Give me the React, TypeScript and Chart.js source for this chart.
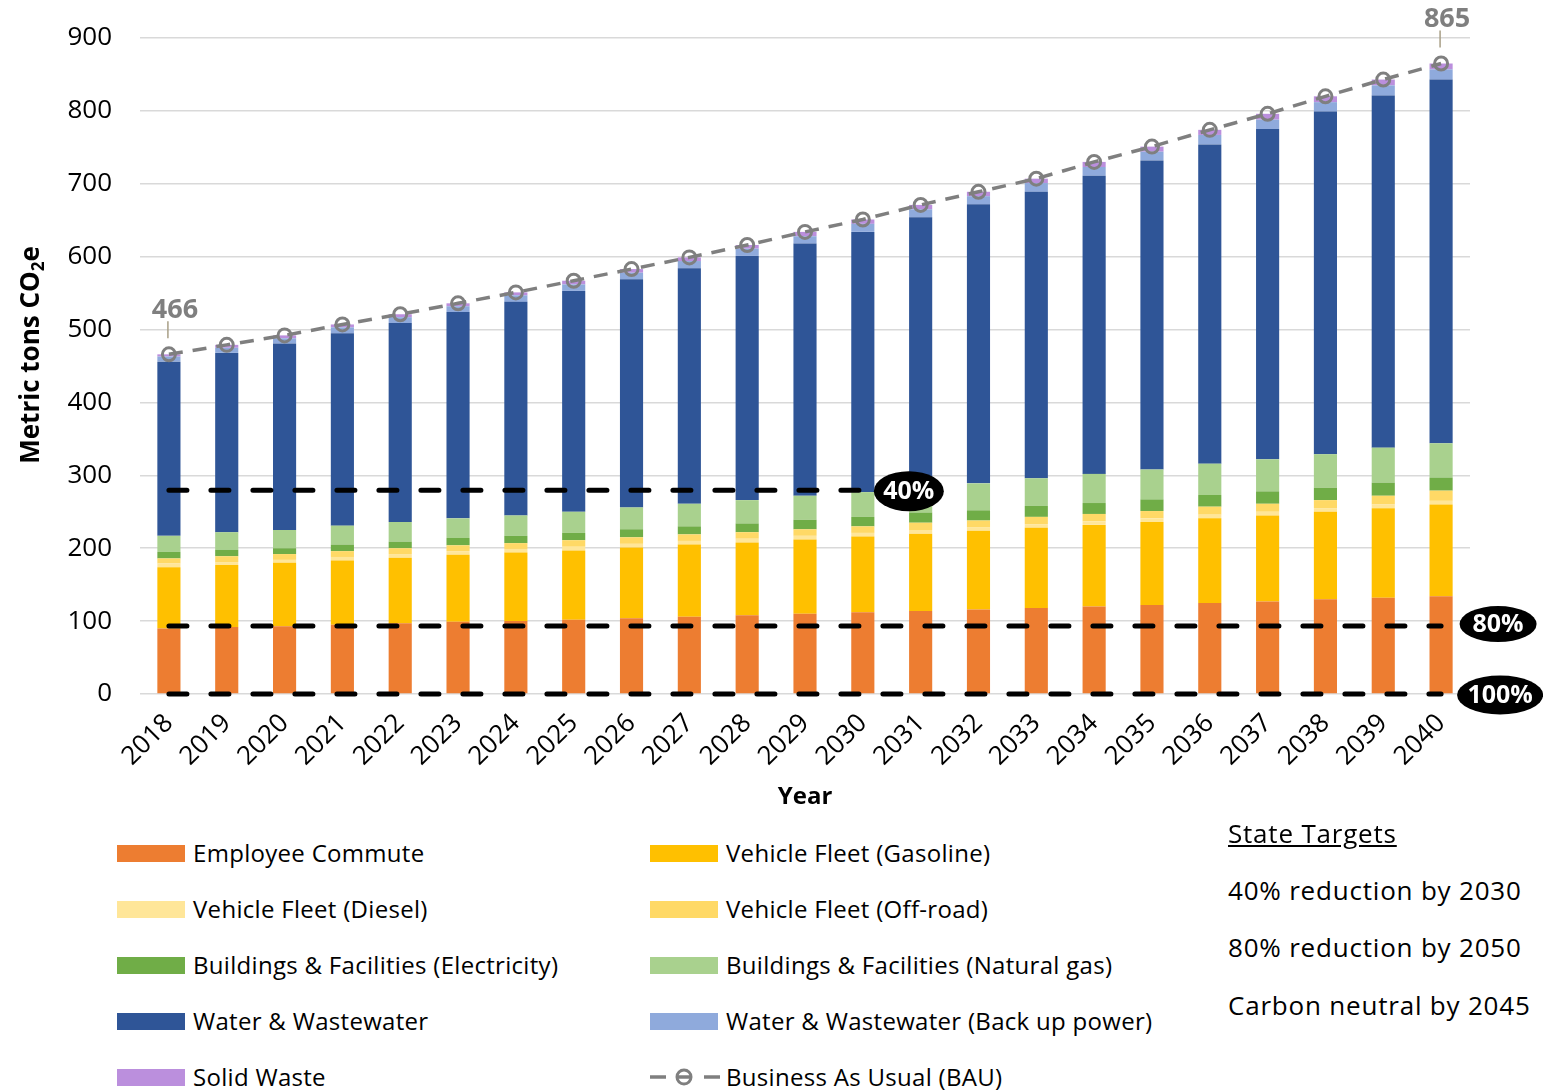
import React, { useEffect, useRef } from 'react';
import { Chart, registerables } from 'chart.js';

Chart.register(...registerables);

const FONT = "'Open Sans', 'DejaVu Sans', sans-serif";

// ---------- data ----------
const years = ['2018', '2019', '2020', '2021', '2022', '2023', '2024', '2025', '2026', '2027', '2028', '2029', '2030', '2031', '2032', '2033', '2034', '2035', '2036', '2037', '2038', '2039', '2040'];

const employeeCommute = [90, 92, 93, 95, 97, 99, 100, 102, 104, 106, 108, 110, 112, 114, 116, 118, 120, 122, 125, 127, 130, 132, 134];
const vehicleGasoline = [84, 85, 87, 88, 90, 92, 94, 95, 97, 99, 100, 102, 104, 106, 108, 110, 112, 114, 116, 118, 120, 123, 126];
const vehicleDiesel = [5, 4, 4, 5, 5, 5, 5, 5, 5, 5, 5, 5, 5, 5, 5, 5, 5, 5, 5, 5, 5, 5, 5];
const vehicleOffroad = [7, 8, 8, 8, 8, 8, 8, 9, 9, 9, 9, 9, 9, 10, 9, 10, 10, 10, 11, 11, 11, 12, 14];
const buildingsElectricity = [9, 9, 8, 9, 9, 10, 10, 10, 11, 11, 12, 13, 13, 14, 14, 15, 15, 16, 16, 17, 17, 18, 18];
const buildingsNaturalGas = [22, 24, 25, 26, 27, 27, 28, 29, 30, 31, 32, 33, 34, 35, 37, 38, 40, 41, 43, 44, 46, 48, 47];
const waterWastewater = [239, 246, 256, 264, 273, 283, 293, 303, 313, 323, 335, 346, 357, 370, 383, 393, 409, 424, 438, 453, 470, 483, 499];
const waterBackupPower = [7, 7, 7, 8, 8, 8, 9, 9, 9, 10, 10, 10, 11, 11, 11, 12, 12, 12, 13, 13, 13, 14, 14];
const solidWaste = [3, 4, 4, 4, 4, 4, 4, 5, 5, 5, 5, 6, 6, 6, 6, 6, 7, 7, 7, 8, 8, 8, 8];
const businessAsUsual = [466, 479, 492, 507, 521, 536, 551, 567, 583, 599, 616, 634, 651, 671, 689, 707, 730, 751, 774, 796, 820, 843, 865];

// State target lines (share of 2018 baseline remaining)
const target40 = [279.6, 279.6, 279.6, 279.6, 279.6, 279.6, 279.6, 279.6, 279.6, 279.6, 279.6, 279.6, 279.6, null, null, null, null, null, null, null, null, null, null];
const target80 = [93.2, 93.2, 93.2, 93.2, 93.2, 93.2, 93.2, 93.2, 93.2, 93.2, 93.2, 93.2, 93.2, 93.2, 93.2, 93.2, 93.2, 93.2, 93.2, 93.2, 93.2, 93.2, 93.2];
const target100 = [0, 0, 0, 0, 0, 0, 0, 0, 0, 0, 0, 0, 0, 0, 0, 0, 0, 0, 0, 0, 0, 0, 0];
const targetLabels = ['40%', '80%', '100%'];

const yTicks = [0, 100, 200, 300, 400, 500, 600, 700, 800, 900];

const seriesLabels = [
  'Employee Commute',
  'Vehicle Fleet (Gasoline)',
  'Vehicle Fleet (Diesel)',
  'Vehicle Fleet (Off-road)',
  'Buildings & Facilities (Electricity)',
  'Buildings & Facilities (Natural gas)',
  'Water & Wastewater',
  'Water & Wastewater (Back up power)',
  'Solid Waste',
];
const seriesValues = [employeeCommute, vehicleGasoline, vehicleDiesel, vehicleOffroad, buildingsElectricity, buildingsNaturalGas, waterWastewater, waterBackupPower, solidWaste];
const seriesColors = ['#ED7D31', '#FFC000', '#FFE699', '#FFD966', '#70AD47', '#A9D18E', '#2F5597', '#8FAADC', '#BB8FDD'];
const bauLabel = 'Business As Usual (BAU)';
const bauColor = '#7F7F7F';

const stateTargets = ['40% reduction by 2030', '80% reduction by 2050', 'Carbon neutral by 2045'];

// ---------- overlay plugin ----------
const overlayPlugin = {
  id: 'overlay',
  afterDatasetsDraw(chart: any) {
    const ctx = chart.ctx;
    ctx.save();
    chart.data.datasets.forEach((ds: any, i: number) => {
      const meta = chart.getDatasetMeta(i);
      if (ds.targetLabel) {
        let last: any = null;
        meta.data.forEach((pt: any, j: number) => {
          if (ds.data[j] !== null && ds.data[j] !== undefined) last = pt;
        });
        if (!last) return;
        const cx = last.x + ds.labelDx;
        const cy = last.y + ds.labelDy;
        ctx.beginPath();
        ctx.ellipse(cx, cy, ds.labelW / 2, ds.labelH / 2, 0, 0, Math.PI * 2);
        ctx.fillStyle = '#000';
        ctx.fill();
        ctx.fillStyle = '#fff';
        ctx.font = `bold 25px ${FONT}`;
        ctx.textAlign = 'center';
        ctx.textBaseline = 'middle';
        ctx.fillText(ds.targetLabel, cx, cy + 1);
      }
      if (ds.isBau) {
        const idxs = [0, ds.data.length - 1];
        idxs.forEach((j) => {
          const pt = meta.data[j];
          ctx.strokeStyle = '#A89F86';
          ctx.lineWidth = 1.5;
          ctx.setLineDash([]);
          ctx.beginPath();
          ctx.moveTo(pt.x - 1, pt.y - 33);
          ctx.lineTo(pt.x - 1, pt.y - 16);
          ctx.stroke();
          ctx.fillStyle = bauColor;
          ctx.font = `bold 27px ${FONT}`;
          ctx.textAlign = 'center';
          ctx.textBaseline = 'middle';
          ctx.fillText(String(ds.data[j]), pt.x + 6, pt.y - 44);
        });
      }
    });
    ctx.restore();
  },
  afterDraw(chart: any) {
    const ctx = chart.ctx;
    const area = chart.chartArea;
    ctx.save();
    const cy = (area.top + area.bottom) / 2 - 11;
    ctx.translate(39, cy);
    ctx.rotate(-Math.PI / 2);
    ctx.fillStyle = '#000';
    ctx.textBaseline = 'alphabetic';
    const big = `bold 26px ${FONT}`;
    const small = `bold 17px ${FONT}`;
    const p1 = 'Metric tons CO';
    const p2 = '2';
    const p3 = 'e';
    ctx.font = big;
    const w1 = ctx.measureText(p1).width;
    const w3 = ctx.measureText(p3).width;
    ctx.font = small;
    const w2 = ctx.measureText(p2).width;
    const total = w1 + w2 + w3;
    let x = -total / 2;
    ctx.textAlign = 'left';
    ctx.font = big;
    ctx.fillText(p1, x, 0);
    x += w1;
    ctx.font = small;
    ctx.fillText(p2, x, 5);
    x += w2;
    ctx.font = big;
    ctx.fillText(p3, x, 0);
    ctx.restore();
  },
};

function makeTarget(data: (number | null)[], label: string, dx: number, dy: number, w: number, h: number, stack: string) {
  return {
    type: 'line',
    label,
    data,
    targetLabel: label,
    labelDx: dx,
    labelDy: dy,
    labelW: w,
    labelH: h,
    stack,
    order: -2,
    borderColor: '#000',
    borderWidth: 5,
    borderDash: [18, 24],
    borderCapStyle: 'round',
    pointRadius: 0,
    pointHoverRadius: 0,
    fill: false,
    spanGaps: false,
    clip: false,
  };
}

function ChartCanvas() {
  const ref = useRef<HTMLCanvasElement | null>(null);
  useEffect(() => {
    if (!ref.current) return;
    const barSets = seriesLabels.map((label, i) => ({
      type: 'bar',
      label,
      data: seriesValues[i],
      backgroundColor: seriesColors[i],
      borderWidth: 0,
      stack: 'emissions',
      barPercentage: 0.4,
      categoryPercentage: 1,
      order: 0,
    }));
    const chart = new Chart(ref.current, {
      type: 'bar',
      data: {
        labels: years,
        datasets: [
          ...barSets,
          {
            type: 'line',
            label: bauLabel,
            data: businessAsUsual,
            isBau: true,
            stack: 'bau',
            order: -1,
            borderColor: bauColor,
            borderWidth: 3.5,
            borderDash: [14, 10],
            pointRadius: 6.5,
            pointBorderWidth: 3,
            pointBorderColor: bauColor,
            pointBackgroundColor: 'rgba(0,0,0,0)',
            fill: false,
            tension: 0,
            clip: false,
          },
          makeTarget(target40, targetLabels[0], 46, 1, 70, 40, 't40'),
          makeTarget(target80, targetLabels[1], 57, -2, 77, 36, 't80'),
          makeTarget(target100, targetLabels[2], 59, 1, 86, 39, 't100'),
        ] as any,
      },
      options: {
        responsive: false,
        animation: false,
        layout: { padding: { left: 0, right: 73, top: 38, bottom: 18 } },
        plugins: {
          legend: { display: false },
          tooltip: { enabled: false },
          title: { display: false },
        },
        scales: {
          x: {
            stacked: true,
            grid: { display: false },
            border: { display: false },
            ticks: {
              font: { family: FONT, size: 26 },
              color: '#000',
              minRotation: 45,
              maxRotation: 45,
              autoSkip: false,
              padding: 6,
            },
            title: {
              display: true,
              text: 'Year',
              font: { family: FONT, size: 24, weight: 'bold' },
              color: '#000',
              padding: { top: 0, bottom: 0 },
            },
            afterFit: (s: any) => {
              s.height = 118;
            },
          },
          y: {
            stacked: true,
            min: 0,
            max: 900,
            afterBuildTicks: (s: any) => {
              s.ticks = yTicks.map((v) => ({ value: v }));
            },
            ticks: {
              font: { family: FONT, size: 26 },
              color: '#000',
              padding: 5,
            },
            grid: { color: '#D9D9D9', lineWidth: 1.5, drawTicks: true, tickLength: 23, tickColor: 'rgba(0,0,0,0)' },
            border: { display: false },
            afterFit: (s: any) => {
              s.width = 140;
            },
          },
        },
      } as any,
      plugins: [overlayPlugin],
    });
    return () => chart.destroy();
  }, []);
  return <canvas ref={ref} width={1543} height={830} style={{ display: 'block', width: 1543, height: 830 }} />;
}

function BauSwatch() {
  return (
    <svg width={70} height={20} style={{ display: 'block' }}>
      <line x1={0} y1={10} x2={16} y2={10} stroke={bauColor} strokeWidth={3.5} />
      <circle cx={34} cy={10} r={7} fill="none" stroke={bauColor} strokeWidth={3} />
      <line x1={27} y1={10} x2={41} y2={10} stroke={bauColor} strokeWidth={3.5} />
      <line x1={54} y1={10} x2={70} y2={10} stroke={bauColor} strokeWidth={3.5} />
    </svg>
  );
}

export default function App() {
  const legendItems = [
    ...seriesLabels.map((label, i) => ({ label, color: seriesColors[i], bau: false })),
    { label: bauLabel, color: bauColor, bau: true },
  ];
  return (
    <div style={{ position: 'absolute', left: 0, top: 0, width: 1543, height: 1090, background: '#fff', overflow: 'hidden', fontFamily: FONT }}>
      <ChartCanvas />
      {legendItems.map((item, i) => {
        const col = i % 2;
        const row = Math.floor(i / 2);
        const left = col === 0 ? 117 : 650;
        const cy = 853 + 56 * row;
        return (
          <div
            key={item.label}
            style={{ position: 'absolute', left, top: cy - 17, height: 34, display: 'flex', alignItems: 'center', whiteSpace: 'nowrap' }}
          >
            {item.bau ? (
              <BauSwatch />
            ) : (
              <div style={{ width: 68, height: 17, background: item.color }} />
            )}
            <span style={{ marginLeft: item.bau ? 6 : 8, fontSize: 24, letterSpacing: 0.3, color: '#000', lineHeight: '34px' }}>{item.label}</span>
          </div>
        );
      })}
      <div style={{ position: 'absolute', left: 1228, top: 833 - 18, height: 36, lineHeight: '36px', fontSize: 26, letterSpacing: 0.8, color: '#000', textDecoration: 'underline', whiteSpace: 'nowrap' }}>
        State Targets
      </div>
      {stateTargets.map((t, i) => (
        <div
          key={t}
          style={{ position: 'absolute', left: 1228, top: [890, 947, 1005][i] - 18, height: 36, lineHeight: '36px', fontSize: 26, letterSpacing: 0.8, color: '#000', whiteSpace: 'nowrap' }}
        >
          {t}
        </div>
      ))}
    </div>
  );
}
